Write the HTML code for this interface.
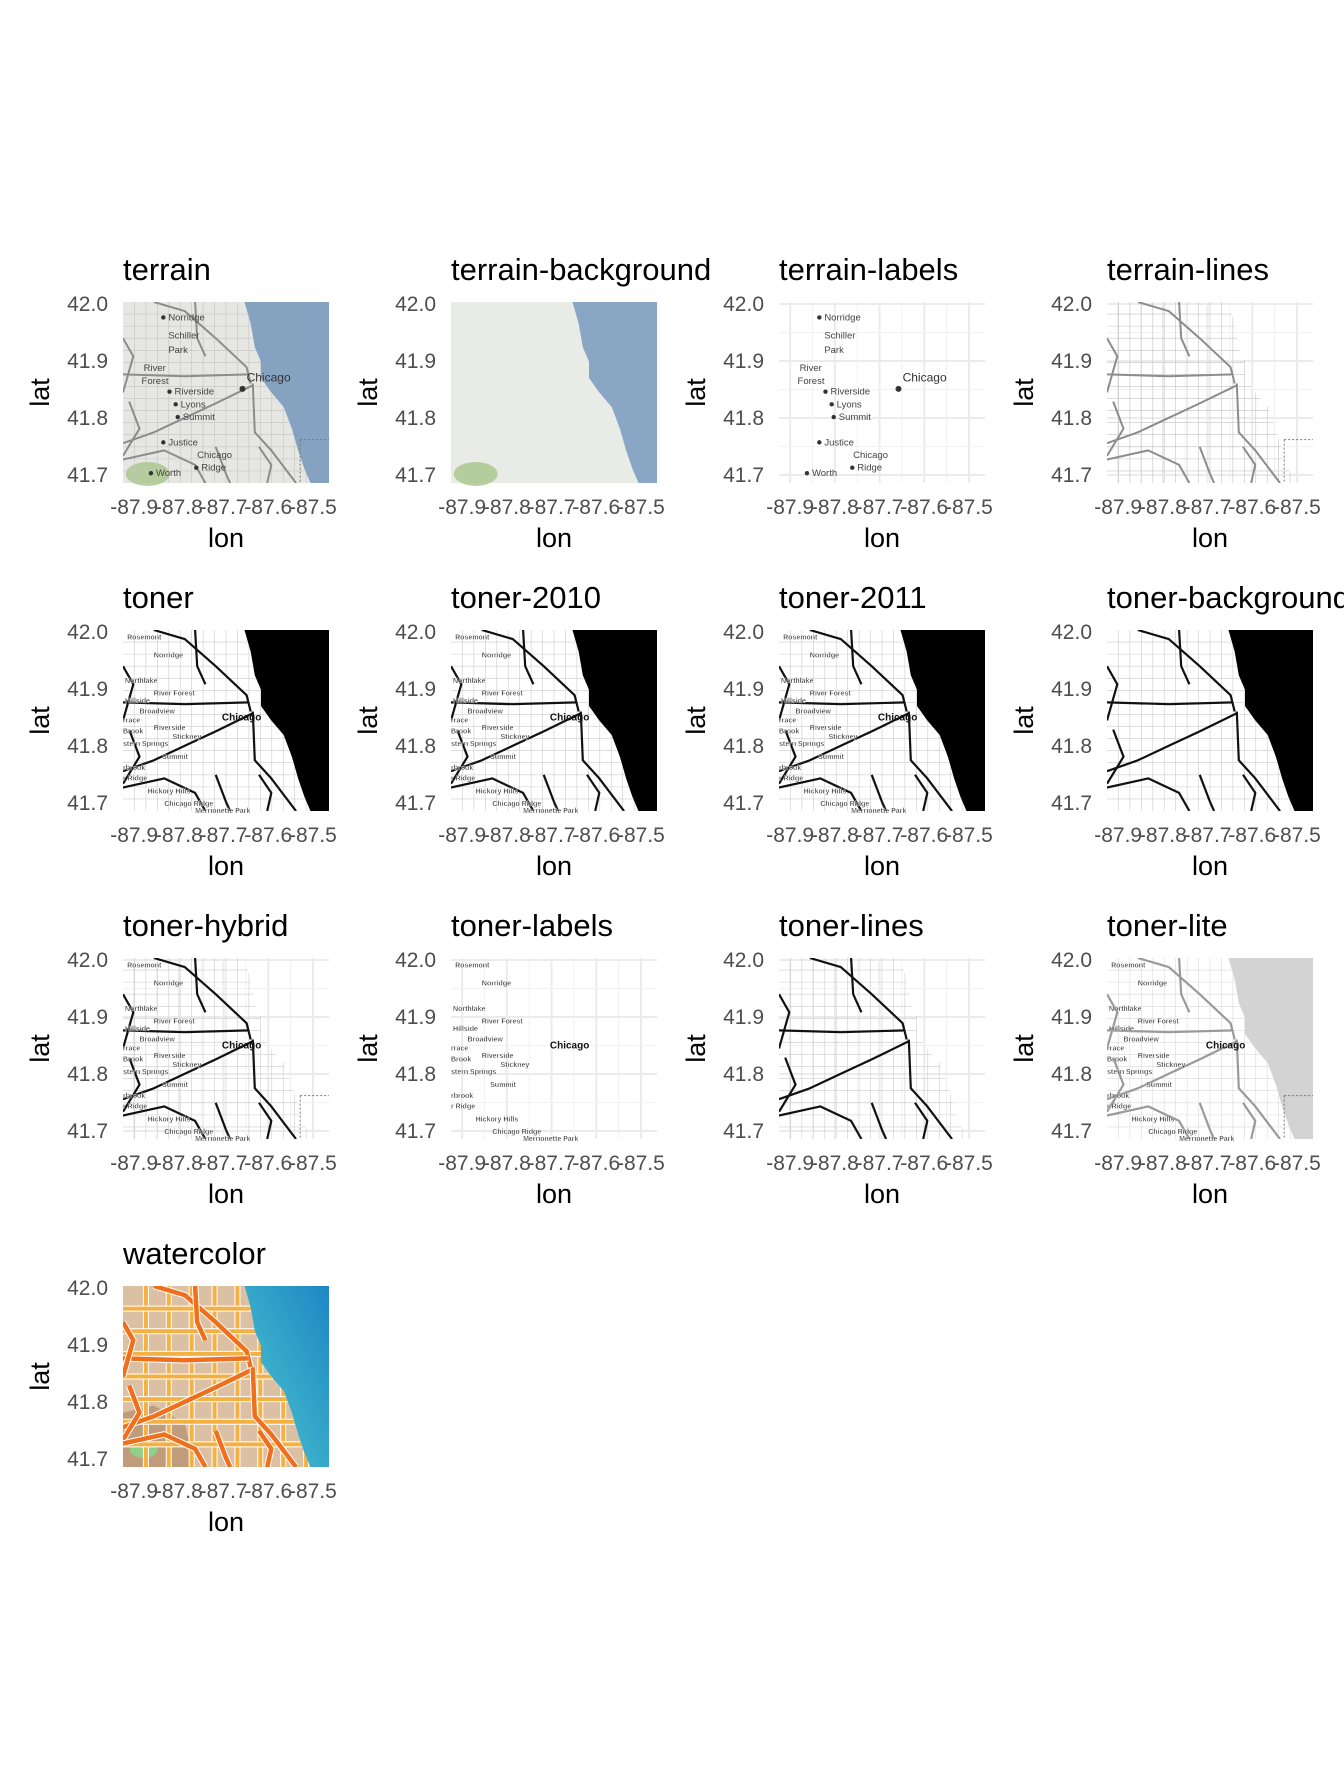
<!DOCTYPE html>
<html><head><meta charset="utf-8"><style>
html,body{margin:0;padding:0;background:#fff;}
svg{display:block;font-family:"Liberation Sans",sans-serif;}
</style></head><body>
<svg id="chart" width="1344" height="1791" viewBox="0 0 1344 1791" xmlns="http://www.w3.org/2000/svg"></svg>
<script>
const panelTitles = ["terrain","terrain-background","terrain-labels","terrain-lines","toner","toner-2010","toner-2011","toner-background","toner-hybrid","toner-labels","toner-lines","toner-lite","watercolor"];
const lonTicks = [-87.9,-87.8,-87.7,-87.6,-87.5];
const latTicks = [41.7,41.8,41.9,42.0];
const lonLabels = ["-87.9","-87.8","-87.7","-87.6","-87.5"];
const latLabels = ["41.7","41.8","41.9","42.0"];
const lonRange = [-87.925,-87.464];
const latRange = [41.686,42.0035];
const terrainPlaces = [["Norridge",0.22,0.08,1],["Schiller",0.22,0.18,0],["Park",0.22,0.26,0],["River",0.1,0.36,0],["Forest",0.09,0.43,0],["Riverside",0.25,0.49,1],["Lyons",0.28,0.56,1],["Summit",0.29,0.63,1],["Justice",0.22,0.77,1],["Chicago",0.36,0.84,0],["Ridge",0.38,0.91,1],["Worth",0.16,0.94,1]];
const tonerPlaces = [["Rosemont",0.02,0.03],["Norridge",0.15,0.13],["Northlake",0.01,0.27],["River Forest",0.15,0.34],["Hillside",0.01,0.38],["Broadview",0.08,0.44],["rrace",0.0,0.49],["Riverside",0.15,0.53],["Brook",0.0,0.55],["Stickney",0.24,0.58],["stern Springs",0.0,0.62],["Summit",0.19,0.69],["rbrook",0.0,0.75],["r Ridge",0.0,0.81],["Hickory Hills",0.12,0.88],["Chicago Ridge",0.2,0.95],["Merrionette Park",0.35,0.99]];

const NS="http://www.w3.org/2000/svg";
const svg=document.getElementById('chart');
const W=206,H=181,X0=123,Y0=302,STEP=328;
function mk(tag,attrs,parent){const e=document.createElementNS(NS,tag);for(const k in attrs)e.setAttribute(k,attrs[k]);(parent||svg).appendChild(e);return e;}
function sx(lon){return (lon-lonRange[0])/(lonRange[1]-lonRange[0])*W;}
function sy(lat){return (latRange[1]-lat)/(latRange[1]-latRange[0])*H;}

const shore=[[0.59,0],[0.62,0.12],[0.64,0.25],[0.67,0.33],[0.67,0.42],[0.72,0.5],[0.78,0.58],[0.82,0.7],[0.85,0.82],[0.88,0.92],[0.91,1]];
function pts(a){return a.map(p=>(p[0]*W).toFixed(1)+','+(p[1]*H).toFixed(1)).join(' ');}
const lakePts=pts([[1,0]].concat(shore).concat([[1,1]]));
const landPts=pts([[0,0]].concat(shore).concat([[0,1]]));
const majors=[
 [[0.15,0],[0.3,0.05],[0.45,0.2],[0.6,0.36],[0.62,0.45]],
 [[0,0.4],[0.3,0.41],[0.61,0.4]],
 [[0.63,0.46],[0.45,0.56],[0.3,0.64],[0.15,0.72],[0,0.78]],
 [[0.63,0.45],[0.64,0.72],[0.72,0.82],[0.84,1]],
 [[0.0,0.2],[0.05,0.3],[0.0,0.5]],
 [[0.03,0.55],[0.08,0.7],[0.0,0.85]],
 [[0.0,0.87],[0.2,0.82],[0.35,0.9],[0.4,1]],
 [[0.35,0],[0.36,0.2],[0.4,0.3]],
 [[0.45,0.8],[0.5,0.95],[0.52,1]],
 [[0.66,0.8],[0.72,0.9],[0.7,1]]
];

panelTitles.forEach((title,i)=>{
  const c=i%4,r=Math.floor(i/4);
  const ox=X0+c*STEP, oy=Y0+r*STEP;
  const g=mk('g',{transform:`translate(${ox},${oy})`});
  
  
  const t=mk('text',{x:0,y:-22,'font-size':31,fill:'#000'},g);t.textContent=title;
  
  
  const grid=mk('g',{},g);
  
  
  lonTicks.forEach(v=>{mk('line',{x1:sx(v),x2:sx(v),y1:0,y2:H,stroke:'#ebebeb','stroke-width':2},grid);});
  latTicks.forEach(v=>{mk('line',{x1:0,x2:W,y1:sy(v),y2:sy(v),stroke:'#ebebeb','stroke-width':2},grid);});
  for(let k=0;k<lonTicks.length-1;k++){const v=(lonTicks[k]+lonTicks[k+1])/2;mk('line',{x1:sx(v),x2:sx(v),y1:0,y2:H,stroke:'#f2f2f2','stroke-width':1},grid);}
  for(let k=0;k<latTicks.length-1;k++){const v=(latTicks[k]+latTicks[k+1])/2;mk('line',{x1:0,x2:W,y1:sy(v),y2:sy(v),stroke:'#f2f2f2','stroke-width':1},grid);}
  const m=mk('g',{},g);
  
  
  const cid='clip'+i;
  const cp=mk('clipPath',{id:cid},g);mk('polygon',{points:landPts},cp);
  const isTerrain=title.startsWith('terrain'), isWater=title==='watercolor';
  const fillLand={'terrain':'#e6e6e2','terrain-background':'#e9ebe6','toner':'#fff','toner-2010':'#fff','toner-2011':'#fff','toner-background':'#fff','toner-lite':'#fff','watercolor':'#dcc0a3'}[title];
  const fillLake={'terrain':'#86a2c1','terrain-background':'#8aa6c5','toner':'#000','toner-2010':'#000','toner-2011':'#000','toner-background':'#000','toner-lite':'#d3d3d3','watercolor':'url(#wgrad)'}[title];
  if(isWater){const d=mk('defs',{},g);const lg=mk('linearGradient',{id:'wgrad',x1:0,y1:1,x2:1,y2:0},d);mk('stop',{offset:'0','stop-color':'#4cc9cf'},lg);mk('stop',{offset:'1','stop-color':'#1f86c4'},lg);}
  if(fillLand) mk('polygon',{points:landPts,fill:fillLand},m);
  if(isWater){mk('polygon',{points:pts([[0,0.7],[0.15,0.66],[0.3,0.76],[0.35,1],[0,1]]),fill:'#a97d5c',opacity:0.55},m);mk('ellipse',{cx:W*0.1,cy:H*0.9,rx:14,ry:9,fill:'#8fd08a'},m);}
  if(title==='terrain'||title==='terrain-background'){mk('ellipse',{cx:W*0.12,cy:H*0.95,rx:22,ry:12,fill:'#a8c48a',opacity:0.8},m);}
  const showRoads=!['terrain-labels','terrain-background','toner-labels'].includes(title);
  const showLabels=['terrain','terrain-labels','toner','toner-2010','toner-2011','toner-hybrid','toner-labels','toner-lite'].includes(title);
  if(showRoads){
    const rg=mk('g',{'clip-path':`url(#${cid})`},m);
    const nx=isWater?9:18, ny=isWater?8:15;
    const minorCol=isWater?'#f4b042':(isTerrain?'#c4c4c4':(title==='toner-lite'?'#dadada':'#cccccc'));
    for(let k=1;k<nx;k++){const x=k*W/nx;
      if(isWater) mk('line',{x1:x,x2:x,y1:0,y2:H,stroke:'#fff','stroke-width':6},rg);
      mk('line',{x1:x,x2:x,y1:0,y2:H,stroke:minorCol,'stroke-width':isWater?4:0.6},rg);}
    for(let k=1;k<ny;k++){const y=k*H/ny;
      if(isWater) mk('line',{x1:0,x2:W,y1:y,y2:y,stroke:'#fff','stroke-width':6},rg);
      mk('line',{x1:0,x2:W,y1:y,y2:y,stroke:minorCol,'stroke-width':isWater?4:0.6},rg);}
    const majCol=isWater?'#ee6f1c':(isTerrain?'#8c8c8c':(title==='toner-lite'?'#9a9a9a':'#111'));
    majors.forEach(p=>{
      if(isWater) mk('polyline',{points:pts(p),fill:'none',stroke:'#fff','stroke-width':6.5,'stroke-linejoin':'round'},rg);
      mk('polyline',{points:pts(p),fill:'none',stroke:majCol,'stroke-width':isWater?4.5:(isTerrain?2:2.2),'stroke-linejoin':'round'},rg);});
  }
  if(fillLake) mk('polygon',{points:lakePts,fill:fillLake},m);
  if(title==='terrain'||title==='terrain-lines'||title==='toner-hybrid'||title==='toner-lite'){mk('polyline',{points:pts([[0.86,0.76],[1,0.76]]),fill:'none',stroke:'#777','stroke-dasharray':'2,2'},m);mk('polyline',{points:pts([[0.86,0.76],[0.86,1]]),fill:'none',stroke:'#777','stroke-dasharray':'2,2'},m);}
  if(showLabels){
    const lg=mk('g',{},m);
    
    
    if(isTerrain){
      terrainPlaces.forEach(p=>{const tx=mk('text',{x:p[1]*W,y:p[2]*H+4,'font-size':9.5,fill:'#444'},lg);tx.textContent=p[0];if(p[3])mk('circle',{cx:p[1]*W-5,cy:p[2]*H+1,r:2.2,fill:'#333'},lg);});
      const ct=mk('text',{x:0.6*W,y:0.44*H,'font-size':12,fill:'#333'},lg);ct.textContent='Chicago';
      mk('circle',{cx:0.58*W,cy:0.48*H,r:3,fill:'#333'},lg);
    } else {
      tonerPlaces.forEach(p=>{const tx=mk('text',{x:p[1]*W,y:p[2]*H+4,'font-size':7,'font-weight':'bold',fill:'#111',stroke:'#fff','stroke-width':0.3},lg);tx.textContent=p[0];});
      const ct=mk('text',{x:0.48*W,y:0.5*H,'font-size':10,'font-weight':'bold',fill:'#111'},lg);ct.textContent='Chicago';
    }
  }
  latTicks.forEach((v,k)=>{const tx=mk('text',{x:-15,y:sy(v)+7,'font-size':21,fill:'#4d4d4d','text-anchor':'end'},g);tx.textContent=latLabels[k];
    
    });
  lonTicks.forEach((v,k)=>{const tx=mk('text',{x:sx(v),y:H+31,'font-size':21,fill:'#4d4d4d','text-anchor':'middle'},g);tx.textContent=lonLabels[k];
    
    });
  const yt=mk('text',{x:0,y:0,'font-size':27,fill:'#000','text-anchor':'middle',transform:`translate(-74,${H/2}) rotate(-90)`},g);yt.textContent='lat';
  
  
  const xt=mk('text',{x:W/2,y:H+64,'font-size':27,fill:'#000','text-anchor':'middle'},g);xt.textContent='lon';
  
  
});
</script>
</body></html>
